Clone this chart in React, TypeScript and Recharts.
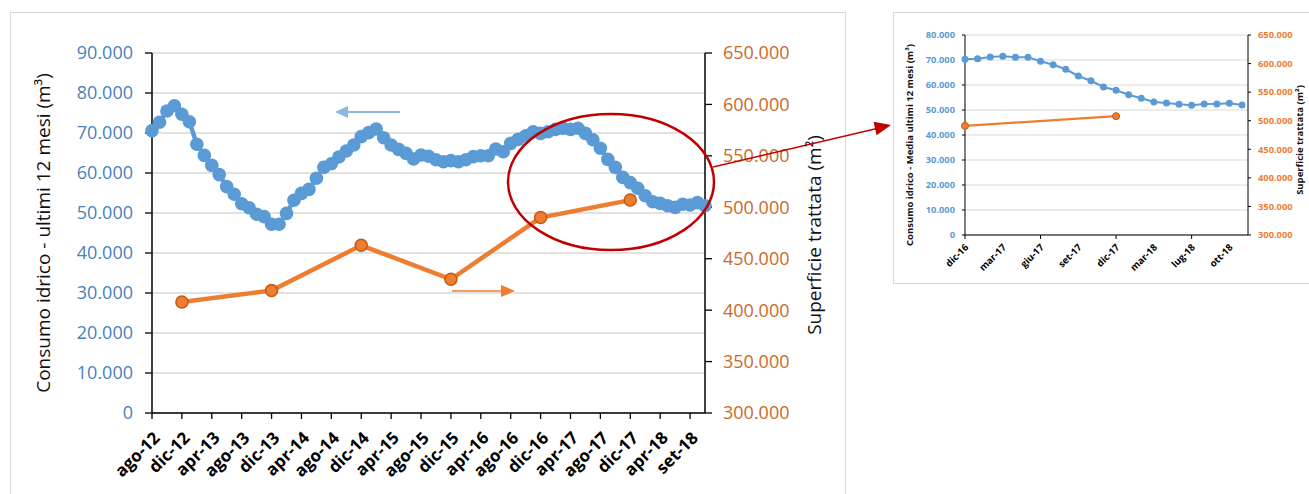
import { CartesianGrid, Line, LineChart, XAxis, YAxis } from "recharts";

// grafico principale: consumo idrico ultimi 12 mesi (m3), mensile
const mesi = [
  "ago-12", "set-12", "ott-12", "nov-12", "dic-12",
  "gen-13", "feb-13", "mar-13", "apr-13", "mag-13", "giu-13", "lug-13", "ago-13", "set-13", "ott-13", "nov-13", "dic-13",
  "gen-14", "feb-14", "mar-14", "apr-14", "mag-14", "giu-14", "lug-14", "ago-14", "set-14", "ott-14", "nov-14", "dic-14",
  "gen-15", "feb-15", "mar-15", "apr-15", "mag-15", "giu-15", "lug-15", "ago-15", "set-15", "ott-15", "nov-15", "dic-15",
  "gen-16", "feb-16", "mar-16", "apr-16", "mag-16", "giu-16", "lug-16", "ago-16", "set-16", "ott-16", "nov-16", "dic-16",
  "gen-17", "feb-17", "mar-17", "apr-17", "mag-17", "giu-17", "lug-17", "ago-17", "set-17", "ott-17", "nov-17", "dic-17",
  "gen-18", "feb-18", "mar-18", "apr-18", "giu-18", "lug-18", "ago-18", "set-18", "ott-18", "nov-18",
];

const consumo = [
  70600, 72700, 75500, 76800, 74700,
  72800, 67200, 64400, 61900, 59600, 56600, 54700, 52300, 51300, 49700, 49100, 47200,
  47200, 49900, 53200, 54900, 55900, 58700, 61400, 62300, 64000, 65500, 67000, 69100,
  70100, 71000, 68800, 67000, 65900, 64900, 63500, 64500, 64200, 63300, 62800, 63100,
  62800, 63300, 64100, 64300, 64300, 66000, 65300, 67400, 68400, 69300, 70300, 69900,
  70300, 70900, 71200, 70900, 71200, 69900, 68300, 66200, 63400, 61400, 58900, 57600,
  56200, 54300, 52800, 52400, 51800, 51400, 52200, 52000, 52600, 51800,
];

// superficie trattata (m2), rilevata a dicembre
const mesiSuperficie = ["dic-12", "dic-13", "dic-14", "dic-15", "dic-16", "dic-17"];
const superficie = [408000, 419000, 463000, 430000, 490000, 507000];

const tickSinistra = [0, 10000, 20000, 30000, 40000, 50000, 60000, 70000, 80000, 90000];
const tickDestra = [300000, 350000, 400000, 450000, 500000, 550000, 600000, 650000];

// dettaglio dic-16 / nov-18
const mesiDettaglio = [
  "dic-16", "gen-17", "feb-17", "mar-17", "apr-17", "mag-17", "giu-17", "lug-17", "ago-17", "set-17", "ott-17", "nov-17",
  "dic-17", "gen-18", "feb-18", "mar-18", "apr-18", "giu-18", "lug-18", "ago-18", "set-18", "ott-18", "nov-18",
];
const consumoMedio = [
  70300, 70500, 71200, 71500, 71100, 71100, 69500, 68100, 66300, 63600, 61700, 59200,
  57900, 56100, 54700, 53200, 52800, 52300, 51900, 52400, 52400, 52700, 52000,
];
const mesiSuperficieDettaglio = ["dic-16", "dic-17"];
const superficieDettaglio = [491000, 508000];

const tickSinistraDettaglio = [0, 10000, 20000, 30000, 40000, 50000, 60000, 70000, 80000];

const BLU = "#5B9BD5";
const ARANCIO = "#ED7D31";
const GRIGIO = "#D9D9D9";
const FONT = "'Open Sans', sans-serif";

const fmt = (v: number) => String(v).replace(/\B(?=(\d{3})+(?!\d))/g, ".");

const dati = mesi.map((m, i) => {
  const k = mesiSuperficie.indexOf(m);
  return { mese: m, consumo: consumo[i], superficie: k >= 0 ? superficie[k] : null };
});

const datiDettaglio = mesiDettaglio.map((m, i) => {
  const k = mesiSuperficieDettaglio.indexOf(m);
  return { mese: m, consumo: consumoMedio[i], superficie: k >= 0 ? superficieDettaglio[k] : null };
});

function TickMese(props: any) {
  const { x, y, payload } = props;
  return (
    <g transform={`translate(${x + 9},${y + 18})`}>
      <text
        textAnchor="end"
        transform="rotate(-45)"
        fontFamily={FONT}
        fontWeight={700}
        fontSize={17}
        fill="#000"
      >
        {payload.value}
      </text>
    </g>
  );
}

function TickMeseDettaglio(props: any) {
  const { x, y, payload } = props;
  const idx = mesiDettaglio.indexOf(payload.value);
  return (
    <g>
      {idx % 6 === 0 && <line x1={x} y1={y - 6} x2={x} y2={y - 2} stroke="#000" strokeWidth={1} />}
      <g transform={`translate(${x + 4},${y + 7})`}>
        <text textAnchor="end" transform="rotate(-45)" fontFamily={FONT} fontWeight={700} fontSize={9.5} fill="#000">
          {payload.value}
        </text>
      </g>
    </g>
  );
}

function GraficoPrincipale() {
  return (
    <LineChart width={845} height={494} data={dati} margin={{ top: 53, right: 40, bottom: 21, left: 52 }}>
      <CartesianGrid yAxisId="sx" vertical={false} stroke={GRIGIO} strokeWidth={1.3} />
      <XAxis
        dataKey="mese"
        interval={3}
        height={60}
        tick={<TickMese />}
        tickSize={6}
        tickMargin={2}
        axisLine={{ stroke: "#000", strokeWidth: 1.5 }}
        tickLine={{ stroke: "#000", strokeWidth: 1.3 }}
      />
      <YAxis
        yAxisId="sx"
        width={100}
        domain={[0, 90000]}
        ticks={tickSinistra}
        tickFormatter={fmt}
        tickSize={7}
        tickMargin={12}
        axisLine={{ stroke: "#000", strokeWidth: 1.5 }}
        tickLine={{ stroke: "#000", strokeWidth: 1.3 }}
        tick={{ fill: "#4A7FBC", fontSize: 18, fontFamily: FONT }}
      />
      <YAxis
        yAxisId="dx"
        orientation="right"
        width={100}
        domain={[300000, 650000]}
        ticks={tickDestra}
        tickFormatter={fmt}
        tickSize={7}
        tickMargin={11}
        axisLine={{ stroke: "#000", strokeWidth: 1.5 }}
        tickLine={{ stroke: "#000", strokeWidth: 1.3 }}
        tick={{ fill: "#C9692A", fontSize: 18, fontFamily: FONT }}
      />
      <Line
        yAxisId="sx"
        dataKey="consumo"
        type="linear"
        stroke={BLU}
        strokeWidth={4.5}
        dot={{ r: 6.8, fill: BLU, stroke: BLU, strokeWidth: 0 }}
        isAnimationActive={false}
      />
      <Line
        yAxisId="dx"
        dataKey="superficie"
        type="linear"
        connectNulls
        stroke={ARANCIO}
        strokeWidth={4.5}
        dot={{ r: 6, fill: ARANCIO, stroke: "#C55A11", strokeWidth: 1.5 }}
        isAnimationActive={false}
      />
    </LineChart>
  );
}

function GraficoDettaglio() {
  return (
    <LineChart width={416} height={270} data={datiDettaglio} margin={{ top: 23, right: 11, bottom: 7, left: 22 }}>
      <CartesianGrid yAxisId="sx" vertical={false} stroke={GRIGIO} strokeWidth={1} />
      <XAxis
        dataKey="mese"
        interval={2}
        height={40}
        padding={{ right: 6 }}
        tick={<TickMeseDettaglio />}
        tickSize={0}
        tickMargin={6}
        tickLine={false}
        axisLine={{ stroke: "#000", strokeWidth: 1 }}
      />
      <YAxis
        yAxisId="sx"
        width={50}
        domain={[0, 80000]}
        ticks={tickSinistraDettaglio}
        tickFormatter={fmt}
        tickSize={3}
        tickMargin={7}
        axisLine={{ stroke: "#000", strokeWidth: 1 }}
        tickLine={{ stroke: "#000" }}
        tick={{ fill: BLU, fontSize: 9.3, fontWeight: 700, fontFamily: FONT }}
      />
      <YAxis
        yAxisId="dx"
        orientation="right"
        width={50}
        domain={[300000, 650000]}
        ticks={tickDestra}
        tickFormatter={fmt}
        tickSize={3}
        tickMargin={7}
        axisLine={{ stroke: "#000", strokeWidth: 1 }}
        tickLine={{ stroke: "#000" }}
        tick={{ fill: ARANCIO, fontSize: 9.3, fontWeight: 700, fontFamily: FONT }}
      />
      <Line
        yAxisId="sx"
        dataKey="consumo"
        type="linear"
        stroke={BLU}
        strokeWidth={2.2}
        dot={{ r: 3.5, fill: BLU, stroke: BLU, strokeWidth: 0 }}
        isAnimationActive={false}
      />
      <Line
        yAxisId="dx"
        dataKey="superficie"
        type="linear"
        connectNulls
        stroke={ARANCIO}
        strokeWidth={2.2}
        dot={{ r: 3.5, fill: ARANCIO, stroke: "#C55A11", strokeWidth: 1 }}
        isAnimationActive={false}
      />
    </LineChart>
  );
}

export default function App() {
  return (
    <div style={{ position: "absolute", left: 0, top: 0, width: 1309, height: 494, background: "#fff", overflow: "hidden" }}>
      {/* riquadri */}
      <div style={{ position: "absolute", left: 10, top: 12, width: 834, height: 500, border: `1px solid ${GRIGIO}` }} />
      <div style={{ position: "absolute", left: 893, top: 12, width: 430, height: 270, border: `1px solid ${GRIGIO}` }} />

      <div style={{ position: "absolute", left: 0, top: 0 }}>
        <GraficoPrincipale />
      </div>
      <div style={{ position: "absolute", left: 893, top: 12 }}>
        <GraficoDettaglio />
      </div>

      {/* titoli assi e annotazioni */}
      <svg width={1309} height={494} style={{ position: "absolute", left: 0, top: 0, pointerEvents: "none" }}>
        <text
          transform="translate(50,233) rotate(-90)"
          textAnchor="middle"
          fontFamily={FONT}
          fontSize={19}
          fill="#111"
        >
          Consumo idrico - ultimi 12 mesi (m³)
        </text>
        <text
          transform="translate(821,235) rotate(-90)"
          textAnchor="middle"
          fontFamily={FONT}
          fontSize={19}
          fill="#111"
        >
          Superficie trattata (m²)
        </text>
        <text
          transform="translate(913,145) rotate(-90)"
          textAnchor="middle"
          fontFamily={FONT}
          fontWeight={700}
          fontSize={9.5}
          fill="#111"
        >
          Consumo idrico - Media ultimi 12 mesi (m³)
        </text>
        <text
          transform="translate(1303,140) rotate(-90)"
          textAnchor="middle"
          fontFamily={FONT}
          fontWeight={700}
          fontSize={9.5}
          fill="#111"
        >
          Superficie trattata (m²)
        </text>

        {/* frecce serie */}
        <line x1={400} y1={112} x2={347} y2={112} stroke="#8DB7E2" strokeWidth={2} />
        <polygon points="335,112 348,106 348,118" fill="#8DB7E2" />
        <line x1={452} y1={291} x2={502} y2={291} stroke={ARANCIO} strokeWidth={1.5} />
        <polygon points="515,291 501,285 501,297" fill={ARANCIO} />

        {/* evidenziazione e rimando al dettaglio */}
        <ellipse cx={611} cy={182} rx={103} ry={68} fill="none" stroke="#C00000" strokeWidth={2.5} />
        <line x1={713} y1={167} x2={877} y2={128.5} stroke="#C00000" strokeWidth={1.3} />
        <polygon points="891,125 876.6,135.3 873.5,121.7" fill="#C00000" />
      </svg>
    </div>
  );
}
